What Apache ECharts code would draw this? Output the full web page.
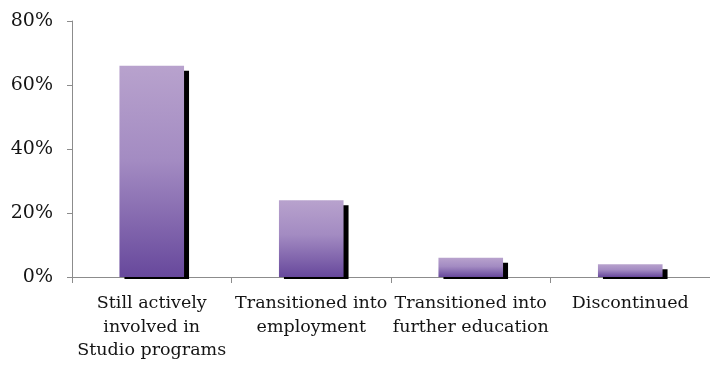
<!DOCTYPE html>
<html>
<head>
<meta charset="utf-8">
<style>
  html, body { margin: 0; padding: 0; background: #fff; }
  #chart { width: 710px; height: 370px; }
</style>
<script src="https://cdn.jsdelivr.net/npm/echarts@6/dist/echarts.min.js"></script>
</head>
<body>
<div id="chart"></div>
<script>
// Outcomes of Studio participants (share of participants)
const categories = [
  'Still actively\ninvolved in\nStudio programs',
  'Transitioned into\nemployment',
  'Transitioned into\nfurther education',
  'Discontinued'
];
const shares = [66, 24, 6, 4];
const yTicks = { min: 0, max: 80, interval: 20 };

const FONT = '"DejaVu Serif", "Liberation Serif", serif';

const chart = echarts.init(document.getElementById('chart'), null, { renderer: 'canvas' });

const barFill = new echarts.graphic.LinearGradient(0, 0, 0, 1, [
  { offset: 0, color: '#b8a2cd' },
  { offset: 0.45, color: '#a38bc2' },
  { offset: 1, color: '#67489c' }
]);

chart.setOption({
  animation: false,
  grid: { left: 72, right: -7, top: 21, bottom: 93 },
  xAxis: {
    type: 'category',
    data: categories,
    axisLine: { lineStyle: { color: '#8c8c8c', width: 1 } },
    axisTick: { show: true, length: 6, lineStyle: { color: '#8c8c8c' } },
    axisLabel: {
      interval: 0,
      margin: 15,
      color: '#141414',
      fontFamily: FONT,
      fontSize: 17.5,
      lineHeight: 23.5
    }
  },
  yAxis: {
    type: 'value',
    min: yTicks.min,
    max: yTicks.max,
    interval: yTicks.interval,
    axisLine: { show: true, lineStyle: { color: '#8c8c8c', width: 1 } },
    axisTick: { show: true, length: 5, lineStyle: { color: '#8c8c8c' } },
    splitLine: { show: false },
    axisLabel: {
      formatter: '{value}%',
      margin: 19,
      color: '#141414',
      fontFamily: FONT,
      fontSize: 19
    }
  },
  series: [{
    type: 'custom',
    data: shares,
    renderItem: function (params, api) {
      const idx = api.value(0);
      const val = api.value(1);
      const top = api.coord([idx, val]);
      const base = api.coord([idx, 0]);
      const band = api.size([1, 0])[0];
      const w = band * 0.405;
      const x = top[0] - w / 2;
      return {
        type: 'group',
        children: [
          {
            type: 'rect',
            shape: { x: x + 5, y: top[1] + 5, width: w, height: base[1] - top[1] - 3 },
            style: { fill: '#000' },
            z2: 1
          },
          {
            type: 'rect',
            shape: { x: x, y: top[1], width: w, height: base[1] - top[1] },
            style: { fill: barFill },
            z2: 2
          }
        ]
      };
    },
    encode: { x: 0, y: 1 },
    z: 1
  }]
});
</script>
</body>
</html>
